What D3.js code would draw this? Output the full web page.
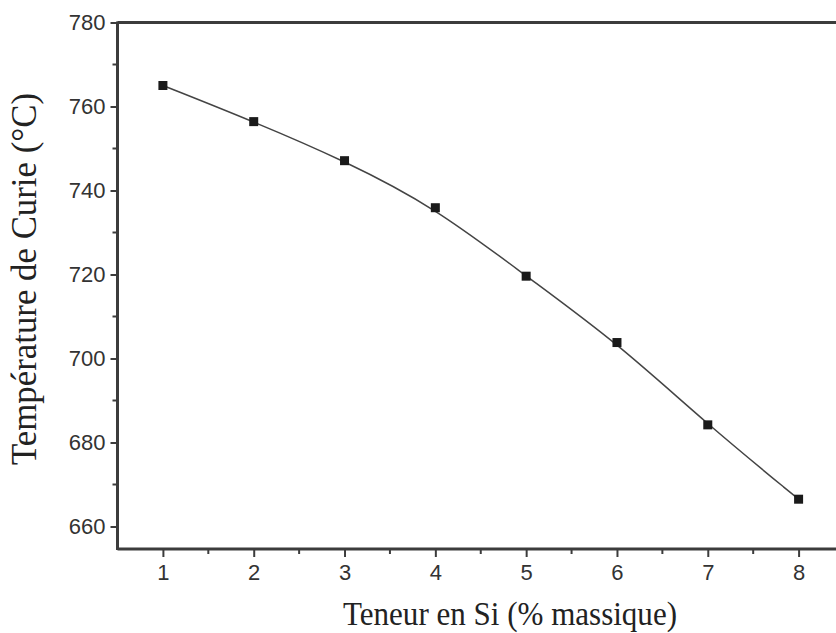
<!DOCTYPE html>
<html><head><meta charset="utf-8">
<script src="https://cdn.jsdelivr.net/npm/d3@7"></script>
<style>body{margin:0;background:#fff}svg{display:block}</style>
</head><body>
<svg id="c" width="836" height="633"></svg>
<script>
const siContent = [1, 2, 3, 4, 5, 6, 7, 8];
const curieTemp = [765.0, 756.4, 747.1, 735.9, 719.6, 703.8, 684.2, 666.5];
const xTicks = [1, 2, 3, 4, 5, 6, 7, 8];
const yTicks = [660, 680, 700, 720, 740, 760, 780];
const xTitle = "Teneur en Si (% massique)";
const yTitle = "Température de Curie (°C)";

const svg = d3.select("#c");
const x = d3.scaleLinear().domain([0.5, 8.5]).range([117.5, 844]);
const y = d3.scaleLinear().domain([660, 780]).range([526.5, 22.5]);
const yBottom = 549, xLeft = 117.5;
const axisColor = "#3c3c3c";

// top frame line
svg.append("line").attr("x1", xLeft).attr("x2", 836).attr("y1", y(780)).attr("y2", y(780))
  .attr("stroke", axisColor).attr("stroke-width", 3);

// minor ticks
const xMinor = d3.range(1.5, 8.5, 1);
svg.append("g").selectAll("line").data(xMinor).join("line")
  .attr("x1", d => x(d)).attr("x2", d => x(d)).attr("y1", yBottom).attr("y2", yBottom + 5)
  .attr("stroke", axisColor).attr("stroke-width", 2);
const yMinor = d3.range(670, 780, 20);
svg.append("g").selectAll("line").data(yMinor).join("line")
  .attr("x1", xLeft - 5).attr("x2", xLeft).attr("y1", d => y(d)).attr("y2", d => y(d))
  .attr("stroke", axisColor).attr("stroke-width", 2);

const tickFont = "Liberation Sans, Arial, sans-serif";

// x axis
const gx = svg.append("g").attr("transform", `translate(0,${yBottom})`)
  .call(d3.axisBottom(x).tickValues(xTicks).tickSize(8).tickPadding(7).tickSizeOuter(0).tickFormat(d3.format("d")));
gx.select(".domain").attr("d", `M${xLeft},0H836`).attr("stroke", axisColor).attr("stroke-width", 3);
gx.selectAll(".tick line").attr("stroke", axisColor).attr("stroke-width", 2);
gx.selectAll(".tick text").attr("font-family", tickFont).attr("font-size", 22).attr("fill", "#333");

// y axis
const gy = svg.append("g").attr("transform", `translate(${xLeft},0)`)
  .call(d3.axisLeft(y).tickValues(yTicks).tickSize(7).tickPadding(5).tickSizeOuter(0).tickFormat(d3.format("d")));
gy.select(".domain").attr("d", `M0,${y(780) - 1}V${yBottom + 1}`).attr("stroke", axisColor).attr("stroke-width", 3);
gy.selectAll(".tick line").attr("stroke", axisColor).attr("stroke-width", 2);
gy.selectAll(".tick text").attr("font-family", tickFont).attr("font-size", 22).attr("fill", "#333");

// fitted curve (smooth through data)
const data = siContent.map((s, i) => ({x: s, y: curieTemp[i]}));
svg.append("path").datum(data)
  .attr("d", d3.line().x(d => x(d.x)).y(d => y(d.y)).curve(d3.curveBasis))
  .attr("fill", "none").attr("stroke", "#444").attr("stroke-width", 1.5);

// markers
svg.append("g").selectAll("rect").data(data).join("rect")
  .attr("x", d => x(d.x) - 4.5).attr("y", d => y(d.y) - 4.5)
  .attr("width", 9).attr("height", 9).attr("fill", "#1a1a1a");

// titles
const titleFont = "Liberation Serif, Times New Roman, serif";
svg.append("text").attr("x", 510).attr("y", 625).attr("text-anchor", "middle")
  .attr("font-family", titleFont).attr("font-size", 34).attr("fill", "#222")
  .attr("textLength", 334).attr("lengthAdjust", "spacingAndGlyphs")
  .text(xTitle);
svg.append("text").attr("transform", "translate(36,279) rotate(-90)").attr("text-anchor", "middle")
  .attr("font-family", titleFont).attr("font-size", 35).attr("fill", "#222")
  .attr("textLength", 372).attr("lengthAdjust", "spacingAndGlyphs")
  .text(yTitle);
</script>
</body></html>
